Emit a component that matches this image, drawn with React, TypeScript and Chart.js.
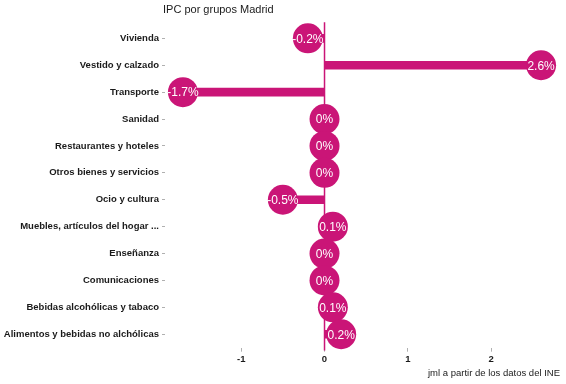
import React, { useEffect, useRef } from "react";
import { Chart, registerables } from "chart.js";

Chart.register(...registerables);

const categories = [
  "Vivienda",
  "Vestido y calzado",
  "Transporte",
  "Sanidad",
  "Restaurantes y hoteles",
  "Otros bienes y servicios",
  "Ocio y cultura",
  "Muebles, artículos del hogar ...",
  "Enseñanza",
  "Comunicaciones",
  "Bebidas alcohólicas y tabaco",
  "Alimentos y bebidas no alchólicas",
];
const values = [-0.2, 2.6, -1.7, 0, 0, 0, -0.5, 0.1, 0, 0, 0.1, 0.2];
const xTicks = [-1, 0, 1, 2];
const titleText = "IPC por grupos Madrid";
const captionText = "jml a partir de los datos del INE";

const COLOR = "#CA1577";
const FONT = "'Liberation Sans', Arial, sans-serif";

export default function App() {
  const ref = useRef<HTMLCanvasElement | null>(null);

  useEffect(() => {
    document.body.style.margin = "0";
    const canvas = ref.current;
    if (!canvas) return;

    const extras = {
      id: "extras",
      beforeDatasetsDraw(chart: any) {
        const { ctx, chartArea, scales } = chart;
        const x0 = scales.x.getPixelForValue(0);
        const band = (chartArea.bottom - chartArea.top) / categories.length;
        ctx.save();
        ctx.strokeStyle = COLOR;
        ctx.lineWidth = 1.5;
        ctx.beginPath();
        ctx.moveTo(x0, chartArea.top - band * 0.1);
        ctx.lineTo(x0, chartArea.bottom + band * 0.1);
        ctx.stroke();
        ctx.restore();
      },
      afterDatasetsDraw(chart: any) {
        const { ctx, chartArea } = chart;
        const meta = chart.getDatasetMeta(1);
        ctx.save();
        ctx.fillStyle = "#ffffff";
        ctx.font = `12px ${FONT}`;
        ctx.textAlign = "center";
        ctx.textBaseline = "middle";
        meta.data.forEach((el: any, i: number) => {
          const v = values[i];
          const label = (v === 0 ? "0" : String(v)) + "%";
          ctx.fillText(label, el.x, el.y + 1);
        });
        // title
        ctx.fillStyle = "#1a1a1a";
        ctx.font = `11px ${FONT}`;
        ctx.textAlign = "left";
        ctx.fillText(titleText, chartArea.left - 2, 10);
        // caption
        ctx.font = `9.5px ${FONT}`;
        ctx.textAlign = "right";
        ctx.fillText(captionText, chartArea.right + 1, 373);
        ctx.restore();
      },
    };

    const chart = new Chart(canvas, {
      type: "bar",
      data: {
        labels: categories,
        datasets: [
          {
            type: "bar",
            data: values,
            backgroundColor: COLOR,
            borderWidth: 0,
            barThickness: 8,
            order: 2,
          } as any,
          {
            type: "line",
            indexAxis: "y",
            data: values,
            showLine: false,
            pointRadius: 15,
            pointHoverRadius: 15,
            pointBackgroundColor: COLOR,
            pointBorderWidth: 0,
            borderColor: COLOR,
            order: 1,
          } as any,
        ],
      },
      options: {
        indexAxis: "y",
        responsive: false,
        animation: false,
        devicePixelRatio: 1,
        layout: { autoPadding: false, padding: { top: 24.9, bottom: 16.3, left: 0, right: 7 } },
        plugins: {
          legend: { display: false },
          tooltip: { enabled: false },
          title: { display: false },
        },
        scales: {
          x: {
            type: "linear",
            min: -1.915,
            max: 2.815,
            afterBuildTicks(scale: any) {
              scale.ticks = xTicks.map((v) => ({ value: v }));
            },
            afterFit(scale: any) {
              scale.height = 20;
            },
            border: { display: false },
            grid: {
              drawOnChartArea: false,
              drawTicks: true,
              tickLength: 4,
              tickColor: "#b0b0b0",
              color: "#b0b0b0",
            },
            ticks: {
              padding: 2,
              color: "#1a1a1a",
              font: { family: FONT, size: 9.5, weight: "bold" },
              callback: (v: any) => String(v),
            },
          },
          y: {
            type: "category",
            offset: true,
            afterFit(scale: any) {
              scale.width = 165;
            },
            border: { display: false },
            grid: {
              offset: false,
              drawOnChartArea: false,
              drawTicks: true,
              tickLength: 3,
              tickColor: "#b0b0b0",
              color: "#b0b0b0",
            },
            ticks: {
              padding: 3,
              color: "#1a1a1a",
              font: { family: FONT, size: 9.5, weight: "bold" },
              autoSkip: false,
            },
          },
        },
      } as any,
      plugins: [extras],
    });

    return () => chart.destroy();
  }, []);

  return (
    <div style={{ position: "absolute", left: 0, top: 0, width: 566, height: 384 }}>
      <canvas ref={ref} width={566} height={384} style={{ display: "block", width: 566, height: 384 }} />
    </div>
  );
}
